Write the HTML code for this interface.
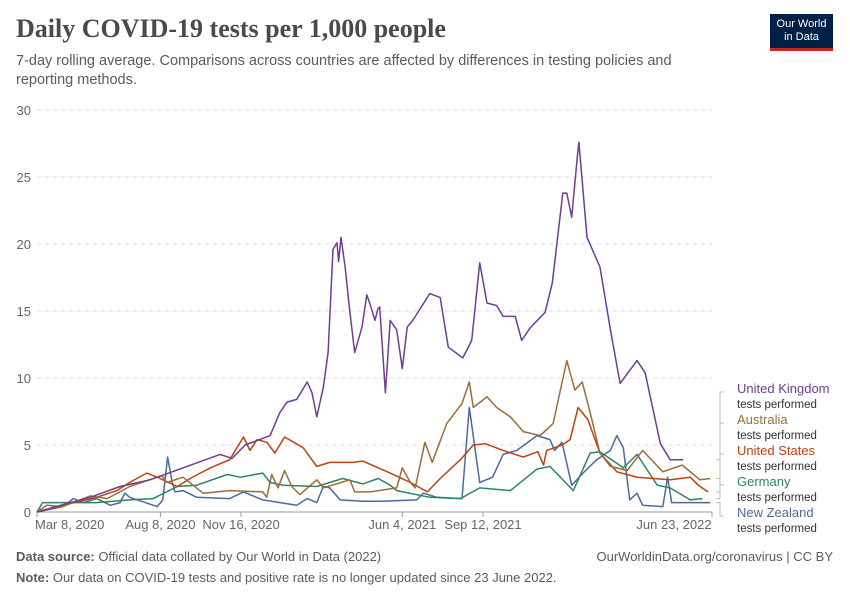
<!DOCTYPE html>
<html><head><meta charset="utf-8"><style>
body{margin:0;background:#fff;font-family:"Liberation Sans",sans-serif;}
#wrap{position:relative;width:850px;height:600px;overflow:hidden;}
.t{position:absolute;white-space:nowrap;}
</style></head><body>
<div id="wrap">
<div class="t" style="left:16px;top:14px;font-family:'Liberation Serif',serif;font-size:26px;font-weight:bold;color:#4a4a4a;">Daily COVID-19 tests per 1,000 people</div>
<div class="t" style="left:16px;top:52px;font-size:14.5px;color:#5b5b5b;line-height:19px;white-space:normal;width:700px;">7-day rolling average. Comparisons across countries are affected by differences in testing policies and reporting methods.</div>
<div style="position:absolute;left:770px;top:14px;width:63px;height:37px;background:#002147;border-bottom:3px solid #ce261e;box-sizing:border-box;color:#fff;font-size:11px;text-align:center;line-height:13px;padding-top:4px;">Our World<br>in Data</div>
<svg id="chart" width="850" height="600" style="position:absolute;left:0;top:0;"></svg>
<div class="t" style="left:16px;top:549px;font-size:13px;color:#5b5b5b;"><b>Data source:</b> Official data collated by Our World in Data (2022)</div>
<div class="t" style="right:17px;top:549px;font-size:13px;color:#5b5b5b;">OurWorldinData.org/coronavirus | CC BY</div>
<div class="t" style="left:16px;top:570px;font-size:13px;color:#5b5b5b;"><b>Note:</b> Our data on COVID-19 tests and positive rate is no longer updated since 23 June 2022.</div>
</div>
<script>
const yTicks=[0,5,10,15,20,25,30];
const xTickDays=[0,153,253,453,553,837];
const xTickLabels=["Mar 8, 2020","Aug 8, 2020","Nov 16, 2020","Jun 4, 2021","Sep 12, 2021","Jun 23, 2022"];
const ukDays=[0,29,66,103,140,186,227,242,258,289,301,310,322,335,341,347,355,361,367,372,374,377,382,388,394,403,409,413,419,423,425,432,438,446,453,459,466,487,500,510,528,539,549,558,570,578,593,601,611,630,639,652,657,663,670,672,682,698,711,723,744,754,773,785,801];
const ukVals=[0,0.5,1.1,1.9,2.4,3.4,4.3,4.0,5.0,5.7,7.4,8.2,8.4,9.7,8.9,7.1,9.3,11.9,19.6,20.1,18.7,20.5,18.3,14.9,11.9,13.8,16.2,15.5,14.3,15.2,15.3,8.9,14.3,13.6,10.7,13.8,14.3,16.3,16.0,12.3,11.5,12.8,18.6,15.6,15.4,14.6,14.6,12.8,13.7,14.9,17.1,23.8,23.8,22.0,26.5,27.6,20.5,18.3,13.6,9.6,11.3,10.4,5.1,3.9,3.9];
const auDays=[0,12,32,66,87,115,149,155,161,181,206,239,280,285,291,299,307,316,326,347,355,388,394,413,446,453,463,469,481,490,508,527,536,541,558,570,587,603,624,640,657,667,676,686,698,711,732,751,776,800,822,835];
const auVals=[0,0.5,0.4,1.2,1.0,1.9,2.6,2.7,2.2,2.6,1.4,1.6,1.5,1.1,2.8,1.8,3.1,1.9,1.3,2.4,1.8,2.4,1.5,1.5,1.8,3.3,2.2,1.8,5.2,3.7,6.6,8.1,9.7,7.8,8.6,7.8,7.1,6.0,5.7,6.6,11.3,9.1,9.7,7.4,4.4,3.4,3.1,4.6,3.0,3.5,2.4,2.5];
const usDays=[0,32,74,99,115,136,149,174,190,215,239,256,264,273,285,295,307,330,347,363,392,404,423,438,463,484,500,525,541,556,578,603,621,628,632,651,661,671,683,698,719,744,785,810,820,832];
const usVals=[0,0.5,1.1,1.6,2.2,2.9,2.6,1.9,2.5,3.3,3.9,5.6,4.6,5.4,5.2,4.4,5.6,4.8,3.4,3.7,3.7,3.8,3.3,2.9,2.2,1.5,2.5,3.9,5.0,5.1,4.6,4.1,4.5,3.5,4.6,5.0,5.4,7.8,6.9,4.4,3.0,2.6,2.4,2.6,2.0,1.5];
const deDays=[0,7,32,74,115,144,174,198,236,252,280,289,305,347,379,404,423,438,446,487,525,549,587,620,636,665,686,698,727,744,769,785,810,825];
const deVals=[0,0.7,0.7,0.7,0.9,1.0,1.9,2.0,2.8,2.6,2.9,2.2,2.0,1.9,2.5,2.1,2.5,2.0,1.6,1.1,1.0,1.8,1.6,3.2,3.4,1.6,4.4,4.5,3.3,4.3,2.0,1.8,0.9,1.0];
const nzDays=[0,32,45,57,74,91,103,109,115,149,156,162,167,171,181,198,239,256,280,322,335,347,355,363,376,404,423,471,479,496,527,536,549,565,578,595,620,636,642,651,663,677,694,711,719,727,735,744,751,776,782,787,835];
const nzVals=[0,0.4,1.0,0.7,1.0,0.5,0.7,1.4,1.1,0.4,0.9,4.1,2.4,1.5,1.6,1.1,1.0,1.5,0.9,0.5,1.0,0.7,1.9,1.8,0.9,0.8,0.8,0.9,1.4,1.1,1.0,7.8,2.2,2.6,4.3,4.6,5.7,5.4,4.6,5.2,2.0,2.9,3.9,4.6,5.7,4.8,0.9,1.4,0.5,0.4,2.6,0.7,0.7];
const seriesNames=["United Kingdom","Australia","United States","Germany","New Zealand"];
const seriesColors=["#6d3e91","#996d39","#c0400f","#2c8465","#4c6a9c"];
const seriesDays=[ukDays,auDays,usDays,deDays,nzDays];
const seriesVals=[ukVals,auVals,usVals,deVals,nzVals];

const NS="http://www.w3.org/2000/svg";
const svg=document.getElementById('chart');
const X0=37,X1=712,Y0=512,Y1=110,DMAX=837,VMAX=30;
const xs=d=>X0+d/DMAX*(X1-X0);
const ys=v=>Y0-v/VMAX*(Y0-Y1);
function mk(tag,attrs){const e=document.createElementNS(NS,tag);for(const k in attrs)e.setAttribute(k,attrs[k]);svg.appendChild(e);return e;}
yTicks.forEach(v=>{
  if(v>0){const g=mk('line',{x1:X0,x2:X1,y1:ys(v),y2:ys(v),stroke:'#ddd','stroke-dasharray':'4,4'});
  
  }
  const t=mk('text',{x:31,y:ys(v)+5,'text-anchor':'end','font-size':13,fill:'#666','font-family':'Liberation Sans, sans-serif'});
  t.textContent=v;
  
  
});
const ax=mk('line',{x1:X0,x2:X1,y1:Y0,y2:Y0,stroke:'#999'});


xTickDays.forEach((d,i)=>{
  const tk=mk('line',{x1:xs(d),x2:xs(d),y1:Y0,y2:Y0+5,stroke:'#999'});
  
  
  const anchor=i==0?'start':(i==xTickDays.length-1?'end':'middle');
  const t=mk('text',{x:xs(d)+(i==0?-2:0),y:Y0+17,'text-anchor':i==0?'start':'middle','font-size':13,fill:'#666','font-family':'Liberation Sans, sans-serif'});
  if(i==xTickDays.length-1)t.setAttribute('x',xs(d)-38);
  t.textContent=xTickLabels[i];
  
  
});
for(let s=4;s>=0;s--){
  const pts=seriesDays[s].map((d,i)=>xs(d).toFixed(1)+','+ys(seriesVals[s][i]).toFixed(1)).join(' ');
  const p=mk('polyline',{points:pts,fill:'none',stroke:seriesColors[s],'stroke-width':1.5,'stroke-linejoin':'round'});
  
  
}
const legY=[389,420,451,482,513];
seriesNames.forEach((n,i)=>{
  const lastDay=seriesDays[i][seriesDays[i].length-1];
  const lastVal=seriesVals[i][seriesVals[i].length-1];
  const c=mk('polyline',{points:`${X1+4},${ys(lastVal)} ${X1+8},${ys(lastVal)} ${X1+8},${legY[i]+3} ${X1+12},${legY[i]+3}`,fill:'none',stroke:'#bbb'});
  
  
  const t=mk('text',{x:737,y:legY[i]+4,'font-size':13,fill:seriesColors[i],'font-family':'Liberation Sans, sans-serif'});
  t.textContent=n;
  
  
  const t2=mk('text',{x:737,y:legY[i]+19,'font-size':11.5,fill:'#333','font-family':'Liberation Sans, sans-serif'});
  t2.textContent='tests performed';
  
  
});
</script>
</body></html>
